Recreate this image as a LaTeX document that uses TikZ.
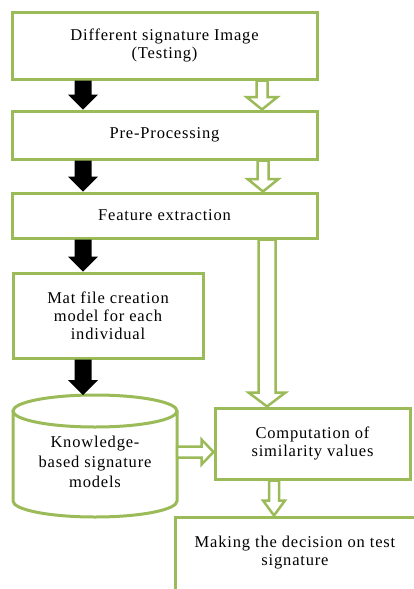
\documentclass[tikz,border=0pt]{standalone}
\usepackage{fontspec}
\setmainfont{Liberation Serif}[LetterSpace=5]
\usetikzlibrary{calc}
\definecolor{og}{RGB}{155,187,89}
\tikzset{
  box/.style={draw=og, line width=3pt, fill=white, inner sep=0pt, align=center,
    font=\fontsize{16.5}{18}\selectfont},
  txt/.style={font=\fontsize{16.5}{18}\selectfont, align=center, inner sep=0pt},
  hollow/.style={draw=og, line width=2.5pt, fill=white, line join=miter},
  blk/.style={fill=black, draw=none},
  cyl/.style={draw=og, line width=3pt, fill=white},
}
% #1 start, #2 end, #3 half shaft, #4 half head, #5 head length, #6 style
\newcommand\arrdown[6]{\path[#6] let \p1=#1, \p2=#2 in
  ({\x1-#3},\y1) -- ({\x1+#3},\y1) -- ({\x1+#3},{\y2+#5}) -- ({\x1+#4},{\y2+#5})
  -- (\x1,\y2) -- ({\x1-#4},{\y2+#5}) -- ({\x1-#3},{\y2+#5}) -- cycle;}
\newcommand\arrright[6]{\path[#6] let \p1=#1, \p2=#2 in
  (\x1,{\y1+#3}) -- (\x1,{\y1-#3}) -- ({\x2-#5},{\y1-#3}) -- ({\x2-#5},{\y1-#4})
  -- (\x2,\y1) -- ({\x2-#5},{\y1+#4}) -- ({\x2-#5},{\y1+#3}) -- cycle;}
\begin{document}
\begin{tikzpicture}[x=1pt,y=-1pt]
\useasboundingbox (0,0) rectangle (414,589);
\clip (0,0) rectangle (414,589);
\coordinate (cL) at (83,0);
\coordinate (cR1) at (262,0);
\coordinate (cR2) at (263,0);
\coordinate (cR3) at (267,0);
\coordinate (cR4) at (274,0);
\coordinate (hy) at (0,452);
\coordinate (kbtop) at (83,395);

% boxes
\node[box, minimum width=305pt, minimum height=67pt] (b1) at (164.5,45.5) {Different signature Image\\(Testing)};
\node[box, minimum width=305pt, minimum height=48pt] (b2) at (164.5,135) {Pre-Processing};
\node[box, minimum width=305pt, minimum height=45pt] (b3) at (164.5,215.5) {Feature extraction};
\node[box, minimum width=190pt, minimum height=85pt] (mat) at (108,315.5) {Mat file creation\\model for each\\individual};
\node[box, minimum width=195pt, minimum height=71pt] (comp) at (312.5,443.5) {Computation of\\similarity values};
\node[box, minimum width=241pt, minimum height=80pt] (dec) at (295.5,557) {};
\node[txt] (dect) at (295,553) {Making the decision on test\\signature};

% cylinder
\path[cyl] (13,411) -- (13,501) arc[start angle=180, end angle=360, x radius=82pt, y radius=16pt] -- (177,411);
\draw[cyl] (95,411) ellipse [x radius=82pt, y radius=16pt];
\node[inner sep=0pt, minimum width=164pt, minimum height=106pt] (kb) at (95,464) {};
\node[txt, font=\fontsize{16.5}{20}\selectfont] (kbt) at (95,462) {Knowledge-\\based signature\\models};

% black arrows
\arrdown{(b1.south -| cL)}{(b2.north -| cL)}{8.5pt}{15pt}{15pt}{blk}
\arrdown{(b2.south -| cL)}{(b3.north -| cL)}{8.5pt}{15pt}{15pt}{blk}
\arrdown{(b3.south -| cL)}{(mat.north -| cL)}{8.5pt}{15pt}{15pt}{blk}
\arrdown{(mat.south -| cL)}{(kbtop)}{8.5pt}{15pt}{15pt}{blk}

% hollow arrows
\arrdown{(b1.south -| cR1)}{(b2.north -| cR1)}{5.5pt}{15.5pt}{12.5pt}{hollow}
\arrdown{(b2.south -| cR2)}{(b3.north -| cR2)}{5.5pt}{15.5pt}{12.5pt}{hollow}
\arrdown{(b3.south -| cR3)}{(comp.north -| cR3)}{8.5pt}{18.5pt}{14pt}{hollow}
\arrdown{(comp.south -| cR4)}{(dec.north -| cR4)}{5pt}{11pt}{15pt}{hollow}
\arrright{(kb.east |- hy)}{(comp.west |- hy)}{5.5pt}{12.5pt}{12pt}{hollow}
\end{tikzpicture}
\end{document}
